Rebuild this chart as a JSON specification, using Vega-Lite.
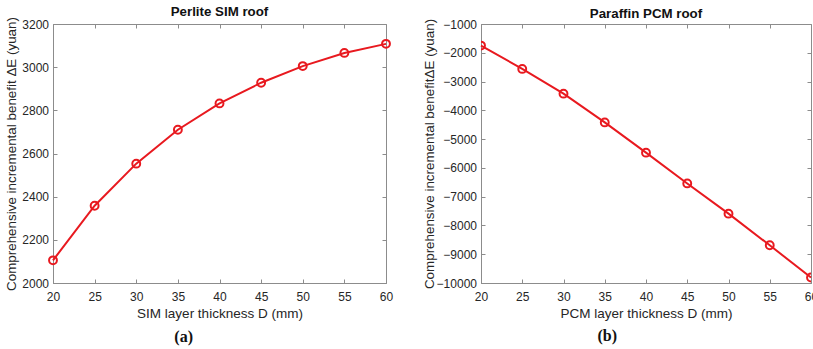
{
  "$schema": "https://vega.github.io/schema/vega-lite/v6.json",
  "padding": {"left": 4, "top": 4, "right": 0, "bottom": 0},
  "background": "white",
  "spacing": 26,
  "datasets": {
    "a": [
      {"D": 20, "E": 2105}, {"D": 25, "E": 2358}, {"D": 30, "E": 2553},
      {"D": 35, "E": 2710}, {"D": 40, "E": 2832}, {"D": 45, "E": 2928},
      {"D": 50, "E": 3005}, {"D": 55, "E": 3066}, {"D": 60, "E": 3108}
    ],
    "b": [
      {"D": 20, "E": -1750}, {"D": 25, "E": -2560}, {"D": 30, "E": -3420},
      {"D": 35, "E": -4420}, {"D": 40, "E": -5470}, {"D": 45, "E": -6540},
      {"D": 50, "E": -7590}, {"D": 55, "E": -8690}, {"D": 60, "E": -9810}
    ],
    "la": [{"D": 35.7, "E": 1752, "t": "(a)"}],
    "lb": [{"D": 35.3, "E": -11859, "t": "(b)"}]
  },
  "config": {
    "font": "Liberation Sans",
    "view": {"stroke": "#8c8c8c", "strokeWidth": 1},
    "axis": {
      "domainColor": "#8c8c8c",
      "tickColor": "#8c8c8c",
      "tickSize": -4,
      "grid": false,
      "format": "d",
      "labelFlush": false,
      "labelFont": "Liberation Sans",
      "labelFontSize": 12,
      "labelColor": "#262626",
      "titleFont": "Liberation Sans",
      "titleFontSize": 13.5,
      "titleFontWeight": "normal",
      "titleColor": "#262626"
    },
    "axisX": {"labelPadding": 12.5, "titlePadding": 4},
    "axisY": {"labelPadding": 8.5},
    "title": {"font": "Liberation Sans", "fontSize": 13.3, "fontWeight": "bold", "color": "#111111", "offset": -2}
  },
  "hconcat": [
    {
      "width": 333,
      "height": 259,
      "title": "Perlite SIM roof",
      "resolve": {"axis": {"x": "independent", "y": "independent"}},
      "layer": [
        {
          "data": {"name": "a"},
          "mark": {"type": "line", "color": "#e8191f", "strokeWidth": 2},
          "encoding": {
            "x": {"field": "D", "type": "quantitative", "scale": {"domain": [20, 60], "nice": false},
                  "axis": {"values": [20,25,30,35,40,45,50,55,60], "title": "SIM layer thickness D (mm)"}},
            "y": {"field": "E", "type": "quantitative", "scale": {"domain": [2000, 3200], "nice": false, "zero": false},
                  "axis": {"values": [2000,2200,2400,2600,2800,3000,3200], "title": "Comprehensive incremental benefit \u0394E (yuan)", "titleFontSize": 13.4, "titlePadding": 3}}
          }
        },
        {
          "data": {"name": "a"},
          "mark": {"type": "point", "shape": "circle", "filled": false, "color": "#e8191f", "strokeWidth": 2, "size": 62, "opacity": 1},
          "encoding": {
            "x": {"field": "D", "type": "quantitative", "scale": {"domain": [20, 60], "nice": false},
                  "axis": {"orient": "top", "values": [20,25,30,35,40,45,50,55,60], "labels": false, "domain": false, "title": null}},
            "y": {"field": "E", "type": "quantitative", "scale": {"domain": [2000, 3200], "nice": false, "zero": false},
                  "axis": {"orient": "right", "values": [2000,2200,2400,2600,2800,3000,3200], "labels": false, "domain": false, "title": null}}
          }
        },
        {
          "data": {"name": "la"},
          "mark": {"type": "text", "font": "Liberation Serif", "fontSize": 16, "fontWeight": "bold", "color": "#111111", "baseline": "middle"},
          "encoding": {
            "x": {"field": "D", "type": "quantitative", "scale": {"domain": [20, 60], "nice": false}, "axis": null},
            "y": {"field": "E", "type": "quantitative", "scale": {"domain": [2000, 3200], "nice": false, "zero": false}, "axis": null},
            "text": {"field": "t"}
          }
        }
      ]
    },
    {
      "width": 330,
      "height": 259,
      "title": "Paraffin PCM roof",
      "resolve": {"axis": {"x": "independent", "y": "independent"}},
      "layer": [
        {
          "data": {"name": "b"},
          "mark": {"type": "line", "color": "#e8191f", "strokeWidth": 2},
          "encoding": {
            "x": {"field": "D", "type": "quantitative", "scale": {"domain": [20, 60], "nice": false},
                  "axis": {"values": [20,25,30,35,40,45,50,55,60], "title": "PCM layer thickness D (mm)"}},
            "y": {"field": "E", "type": "quantitative", "scale": {"domain": [-10000, -1000], "nice": false, "zero": false},
                  "axis": {"values": [-10000,-9000,-8000,-7000,-6000,-5000,-4000,-3000,-2000,-1000], "title": "Comprehensive incremental benefit\u0394E (yuan)", "titleFontSize": 13.4, "titlePadding": 0}}
          }
        },
        {
          "data": {"name": "b"},
          "mark": {"type": "point", "shape": "circle", "filled": false, "color": "#e8191f", "strokeWidth": 2, "size": 62, "opacity": 1, "clip": true},
          "encoding": {
            "x": {"field": "D", "type": "quantitative", "scale": {"domain": [20, 60], "nice": false},
                  "axis": {"orient": "top", "values": [20,25,30,35,40,45,50,55,60], "labels": false, "domain": false, "title": null}},
            "y": {"field": "E", "type": "quantitative", "scale": {"domain": [-10000, -1000], "nice": false, "zero": false},
                  "axis": {"orient": "right", "values": [-10000,-9000,-8000,-7000,-6000,-5000,-4000,-3000,-2000,-1000], "labels": false, "domain": false, "title": null}}
          }
        },
        {
          "data": {"name": "lb"},
          "mark": {"type": "text", "font": "Liberation Serif", "fontSize": 16, "fontWeight": "bold", "color": "#111111", "baseline": "middle"},
          "encoding": {
            "x": {"field": "D", "type": "quantitative", "scale": {"domain": [20, 60], "nice": false}, "axis": null},
            "y": {"field": "E", "type": "quantitative", "scale": {"domain": [-10000, -1000], "nice": false, "zero": false}, "axis": null},
            "text": {"field": "t"}
          }
        }
      ]
    }
  ]
}
